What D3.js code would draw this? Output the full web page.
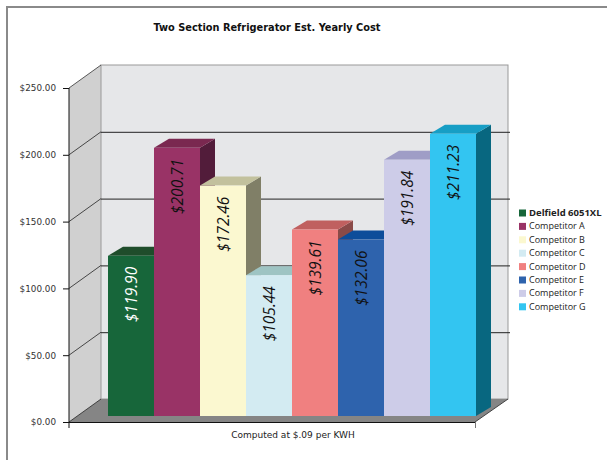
<!DOCTYPE html>
<html>
<head>
<meta charset="utf-8">
<script src="https://cdn.jsdelivr.net/npm/d3@7"></script>
<style>
  body { margin: 0; background: #fff; }
  svg { display: block; }
</style>
</head>
<body>
<div id="chart"></div>
<script>
const width = 607
const height = 460

// data
const categories = ['Delfield 6051XL', 'Competitor A', 'Competitor B', 'Competitor C',
                    'Competitor D', 'Competitor E', 'Competitor F', 'Competitor G']
const costs = [119.90, 200.71, 172.46, 105.44, 139.61, 132.06, 191.84, 211.23]
const yTicks = [0, 50, 100, 150, 200, 250]
const frontColors = ['#17663a', '#993366', '#fbf8d0', '#d3ebf2', '#f08080', '#2e63ad', '#cdcce8', '#33c5f1']
const topColors   = ['#1f4d2b', '#7a2850', '#c2c19d', '#9ec4c3', '#c0605f', '#0d4d9a', '#9f9dc6', '#179ec5']
const sideColors  = ['#123f22', '#521c3a', '#807f67', '#6d8f94', '#8a4a48', '#0a3670', '#75739a', '#086780']
const labelColors = ['#ffffff', '#111', '#111', '#111', '#111', '#111', '#111', '#111']

// layout
const axisX = 69, floorRight = 475
const depthX = 32, depthY = 23
const barDX = 15, barDY = 9
const barBase = 416

const svg = d3.select('#chart').append('svg')
    .attr('width', width)
    .attr('height', height)

// outer frame
svg.append('rect')
    .attr('x', 7).attr('y', 7)
    .attr('width', width + 10).attr('height', height + 10)
    .attr('fill', 'none')
    .attr('stroke', '#8a8a8a')
    .attr('stroke-width', 2)

svg.append('text')
    .attr('x', 267).attr('y', 31)
    .attr('text-anchor', 'middle')
    .attr('font-family', 'DejaVu Sans')
    .attr('font-weight', 'bold')
    .attr('font-size', 9.8)
    .attr('fill', '#111')
    .text('Two Section Refrigerator Est. Yearly Cost')

let y = d3.scaleLinear().domain([0, 250]).range([422, 88])

let x = d3.scaleBand()
    .domain(categories)
    .range([108, 476])
    .padding(0)

// walls
const backLeft = axisX + depthX, backRight = floorRight + depthX + 1

svg.append('path')  // left wall
    .attr('d', `M${axisX},${y(250)} L${backLeft},${y(250) - depthY} L${backLeft},${y(0) - depthY} L${axisX},${y(0)} Z`)
    .attr('fill', '#d0d0d0')

svg.append('rect')  // back wall
    .attr('x', backLeft).attr('y', y(250) - depthY)
    .attr('width', backRight - backLeft)
    .attr('height', y(0) - y(250))
    .attr('fill', '#e6e7e9')
    .attr('stroke', '#999')
    .attr('stroke-width', 1)

svg.append('path')  // floor
    .attr('d', `M${axisX},${y(0)} L${floorRight},${y(0)} L${backRight},${y(0) - depthY} L${backLeft},${y(0) - depthY} Z`)
    .attr('fill', '#858585')

svg.append('line')
    .attr('x1', floorRight).attr('y1', y(0))
    .attr('x2', backRight).attr('y2', y(0) - depthY)
    .attr('stroke', '#444').attr('stroke-width', 1)

// gridlines
let grid = svg.append('g')
grid.selectAll('line.back')
    .data(yTicks.filter(d => d > 0 && d < 250))
    .join('line')
    .attr('x1', backLeft).attr('x2', backRight + 2)
    .attr('y1', d => y(d) - depthY + 0.5).attr('y2', d => y(d) - depthY + 0.5)
    .attr('stroke', '#222')
grid.selectAll('line.side')
    .data(yTicks.filter(d => d < 250))
    .join('line')
    .attr('x1', axisX).attr('y1', d => y(d))
    .attr('x2', backLeft).attr('y2', d => y(d) - depthY)
    .attr('stroke', '#222')
    .attr('stroke-width', 0.8)
grid.append('line')
    .attr('x1', axisX).attr('y1', y(250))
    .attr('x2', backLeft).attr('y2', y(250) - depthY)
    .attr('stroke', '#333').attr('stroke-width', 0.8)

// bars
let bars = svg.append('g')
    .selectAll('g')
    .data(categories)
    .join('g')

bars.append('path')  // side
    .attr('d', (d, i) => {
        let x1 = x(d) + x.bandwidth(), t = y(costs[i]) - 6
        return `M${x1},${t} L${x1 + barDX},${t - barDY} L${x1 + barDX},${barBase - barDY} L${x1},${barBase} Z`
    })
    .attr('fill', (d, i) => sideColors[i])

bars.append('path')  // top
    .attr('d', (d, i) => {
        let x0 = x(d), x1 = x0 + x.bandwidth(), t = y(costs[i]) - 6
        return `M${x0},${t} L${x0 + barDX},${t - barDY} L${x1 + barDX},${t - barDY} L${x1},${t} Z`
    })
    .attr('fill', (d, i) => topColors[i])

bars.append('rect')  // front
    .attr('x', d => x(d))
    .attr('y', (d, i) => y(costs[i]) - 6)
    .attr('width', x.bandwidth())
    .attr('height', (d, i) => barBase - (y(costs[i]) - 6))
    .attr('fill', (d, i) => frontColors[i])

bars.append('text')
    .attr('transform', (d, i) => `translate(${x(d) + x.bandwidth() / 2 + 6},${y(costs[i]) + 5}) rotate(-90)`)
    .attr('text-anchor', 'end')
    .attr('font-family', 'Open Sans')
    .attr('font-style', 'italic')
    .attr('font-size', 15.5)
    .attr('fill', (d, i) => labelColors[i])
    .text((d, i) => '$' + costs[i].toFixed(2))

// y axis
let axis = svg.append('g')
    .attr('transform', `translate(${axisX},0)`)
    .call(d3.axisLeft(y).tickValues(yTicks).tickSize(6).tickFormat(d => '$' + d3.format('.2f')(d)))
axis.select('.domain').attr('stroke', '#111').attr('d', `M0,${y(250)}V${y(0) + 6}`)
axis.selectAll('.tick line').attr('stroke', '#111')
axis.selectAll('.tick text')
    .attr('x', -13)
    .attr('font-family', 'DejaVu Sans')
    .attr('font-size', 8.8)
    .attr('fill', '#333')

// floor front edge + x axis
svg.append('line')
    .attr('x1', axisX - 6).attr('x2', floorRight)
    .attr('y1', y(0) + 0.5).attr('y2', y(0) + 0.5)
    .attr('stroke', '#111')
svg.append('line')
    .attr('x1', floorRight + 0.5).attr('x2', floorRight + 0.5)
    .attr('y1', y(0)).attr('y2', y(0) + 6)
    .attr('stroke', '#777')

svg.append('text')
    .attr('x', 293).attr('y', 438)
    .attr('text-anchor', 'middle')
    .attr('font-family', 'DejaVu Sans')
    .attr('font-size', 9)
    .attr('fill', '#222')
    .text('Computed at $.09 per KWH')

// legend
let legend = svg.append('g')
    .selectAll('g')
    .data(categories)
    .join('g')
    .attr('transform', (d, i) => `translate(519,${213 + i * 13.4})`)

legend.append('rect')
    .attr('x', 0).attr('y', -3.5)
    .attr('width', 7).attr('height', 7)
    .attr('fill', (d, i) => frontColors[i])

legend.append('text')
    .attr('x', 10).attr('y', 3)
    .attr('font-family', 'Open Sans')
    .attr('font-size', (d, i) => i == 0 ? 9.5 : 9)
    .attr('font-weight', (d, i) => i == 0 ? 'bold' : 'normal')
    .attr('fill', '#222')
    .text(d => d)
</script>
</body>
</html>
